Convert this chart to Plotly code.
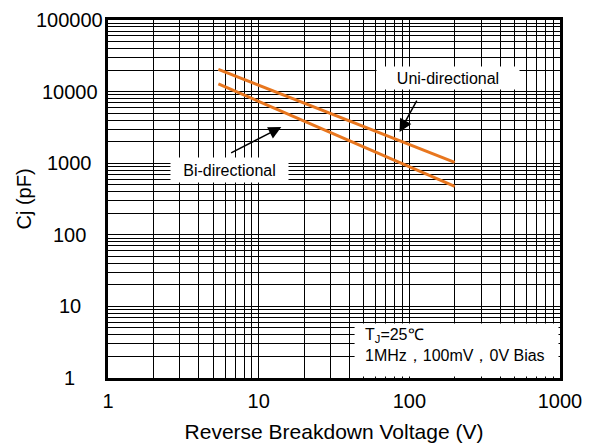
import math
import plotly.graph_objects as go

# Data
uni_v = [5.4, 200]
uni_cj = [20500, 1030]
bi_v = [5.4, 200]
bi_cj = [12800, 475]

x_tickvals = [1, 10, 100, 1000]
x_ticktext = ["1", "10", "100", "1000"]
y_tickvals = [1, 10, 100, 1000, 10000, 100000]
y_ticktext = ["1", "10", "100", "1000", "10000", "100000"]

x_minor = [m * 10 ** e for e in range(3) for m in range(2, 10)]
y_minor = [m * 10 ** e for e in range(5) for m in range(2, 10)]

ORANGE = "#E8761E"
FONT = "Liberation Sans, Arial, sans-serif"

# page body has an 8px default margin -> figure origin at (8, 8) on screen
OFF = 8
W, H = 600, 446
PX0, PX1, PY0, PY1 = 108.3, 560.5, 19.5, 378.0   # target plot area on screen
L = PX0 - OFF
T = PY0 - OFF
R = W - (PX1 - OFF)
B = H - (PY1 - OFF)
PW, PH = PX1 - PX0, PY1 - PY0


def px_x(p):
    return (p - PX0) / PW


def px_y(p):
    return (PY1 - p) / PH


fig = go.Figure()
fig.add_trace(go.Scatter(x=uni_v, y=uni_cj, mode="lines",
                         line=dict(color=ORANGE, width=3), showlegend=False))
fig.add_trace(go.Scatter(x=bi_v, y=bi_cj, mode="lines",
                         line=dict(color=ORANGE, width=3), showlegend=False))

axis_common = dict(
    type="log", automargin=False,
    showgrid=True, gridcolor="black", gridwidth=1.3,
    showline=True, linecolor="black", linewidth=2.5, mirror="allticks",
    ticks="inside", ticklen=4, tickcolor="black", tickwidth=1,
    tickfont=dict(family=FONT, size=20, color="black"),
    zeroline=False,
)

fig.update_xaxes(
    **axis_common,
    range=[0, 3],
    tickmode="array", tickvals=x_tickvals, ticktext=x_ticktext,
    minor=dict(tickmode="array", tickvals=x_minor, showgrid=True,
               gridcolor="black", gridwidth=1.3, ticks="inside", ticklen=4,
               tickcolor="black"),
    ticklabelstandoff=3,
    title=dict(text="Reverse Breakdown Voltage (V)",
               font=dict(family=FONT, size=21, color="black"), standoff=14),
)
fig.update_yaxes(
    **axis_common,
    range=[0, 5],
    tickmode="array", tickvals=y_tickvals, ticktext=[""] * len(y_tickvals),
    minor=dict(tickmode="array", tickvals=y_minor, showgrid=True,
               gridcolor="black", gridwidth=1.3, ticks="inside", ticklen=4,
               tickcolor="black"),
    title=dict(text="Cj (pF)", font=dict(family=FONT, size=20, color="black"),
               standoff=65),
)

# y tick labels, centered as in the reference
for v, t in zip(y_tickvals, y_ticktext):
    fig.add_annotation(xref="paper", yref="y", x=px_x(70), y=math.log10(v),
                       xanchor="center", yanchor="middle", showarrow=False,
                       text=t, font=dict(family=FONT, size=20, color="black"))

# white box behind conditions text (lower right)
fig.add_shape(type="rect", xref="paper", yref="paper",
              x0=px_x(355), x1=1 - 1.5 / PW, y0=1.5 / PH, y1=px_y(323.3),
              fillcolor="white", line=dict(width=0), layer="above")

fig.add_annotation(xref="paper", yref="paper",
                   x=px_x(363), y=px_y(324),
                   xanchor="left", yanchor="top", align="left",
                   showarrow=False,
                   text="T<sub>J</sub>=25℃<br>1MHz，100mV，0V Bias",
                   font=dict(family=FONT, size=16, color="black"))

# label boxes
fig.add_annotation(xref="paper", yref="paper",
                   x=px_x(448), y=px_y(77.5),
                   xanchor="center", yanchor="middle",
                   showarrow=False, text="Uni-directional",
                   font=dict(family=FONT, size=16, color="black"),
                   bgcolor="white", width=142, height=22, borderpad=0)
fig.add_annotation(xref="paper", yref="paper",
                   x=px_x(230), y=px_y(170),
                   xanchor="center", yanchor="middle",
                   showarrow=False, text="Bi-directional",
                   font=dict(family=FONT, size=16, color="black"),
                   bgcolor="white", width=117, height=24, borderpad=0)

# arrows
fig.add_annotation(xref="paper", yref="paper",
                   x=px_x(400), y=px_y(131.7),
                   ax=18.3, ay=-33.4, axref="pixel", ayref="pixel",
                   showarrow=True, arrowhead=2, arrowsize=1.7, arrowwidth=1.5,
                   arrowcolor="black", text=" ", font=dict(size=1))
fig.add_annotation(xref="paper", yref="paper",
                   x=px_x(281.7), y=px_y(126.7),
                   ax=-51.7, ay=26.6, axref="pixel", ayref="pixel",
                   showarrow=True, arrowhead=2, arrowsize=1.7, arrowwidth=1.5,
                   arrowcolor="black", text=" ", font=dict(size=1))

fig.update_layout(
    width=W, height=H,
    margin=dict(l=L, r=R, t=T, b=B, autoexpand=False),
    paper_bgcolor="white", plot_bgcolor="white",
    font=dict(family=FONT, color="black"),
)

fig.write_html("out.html")
